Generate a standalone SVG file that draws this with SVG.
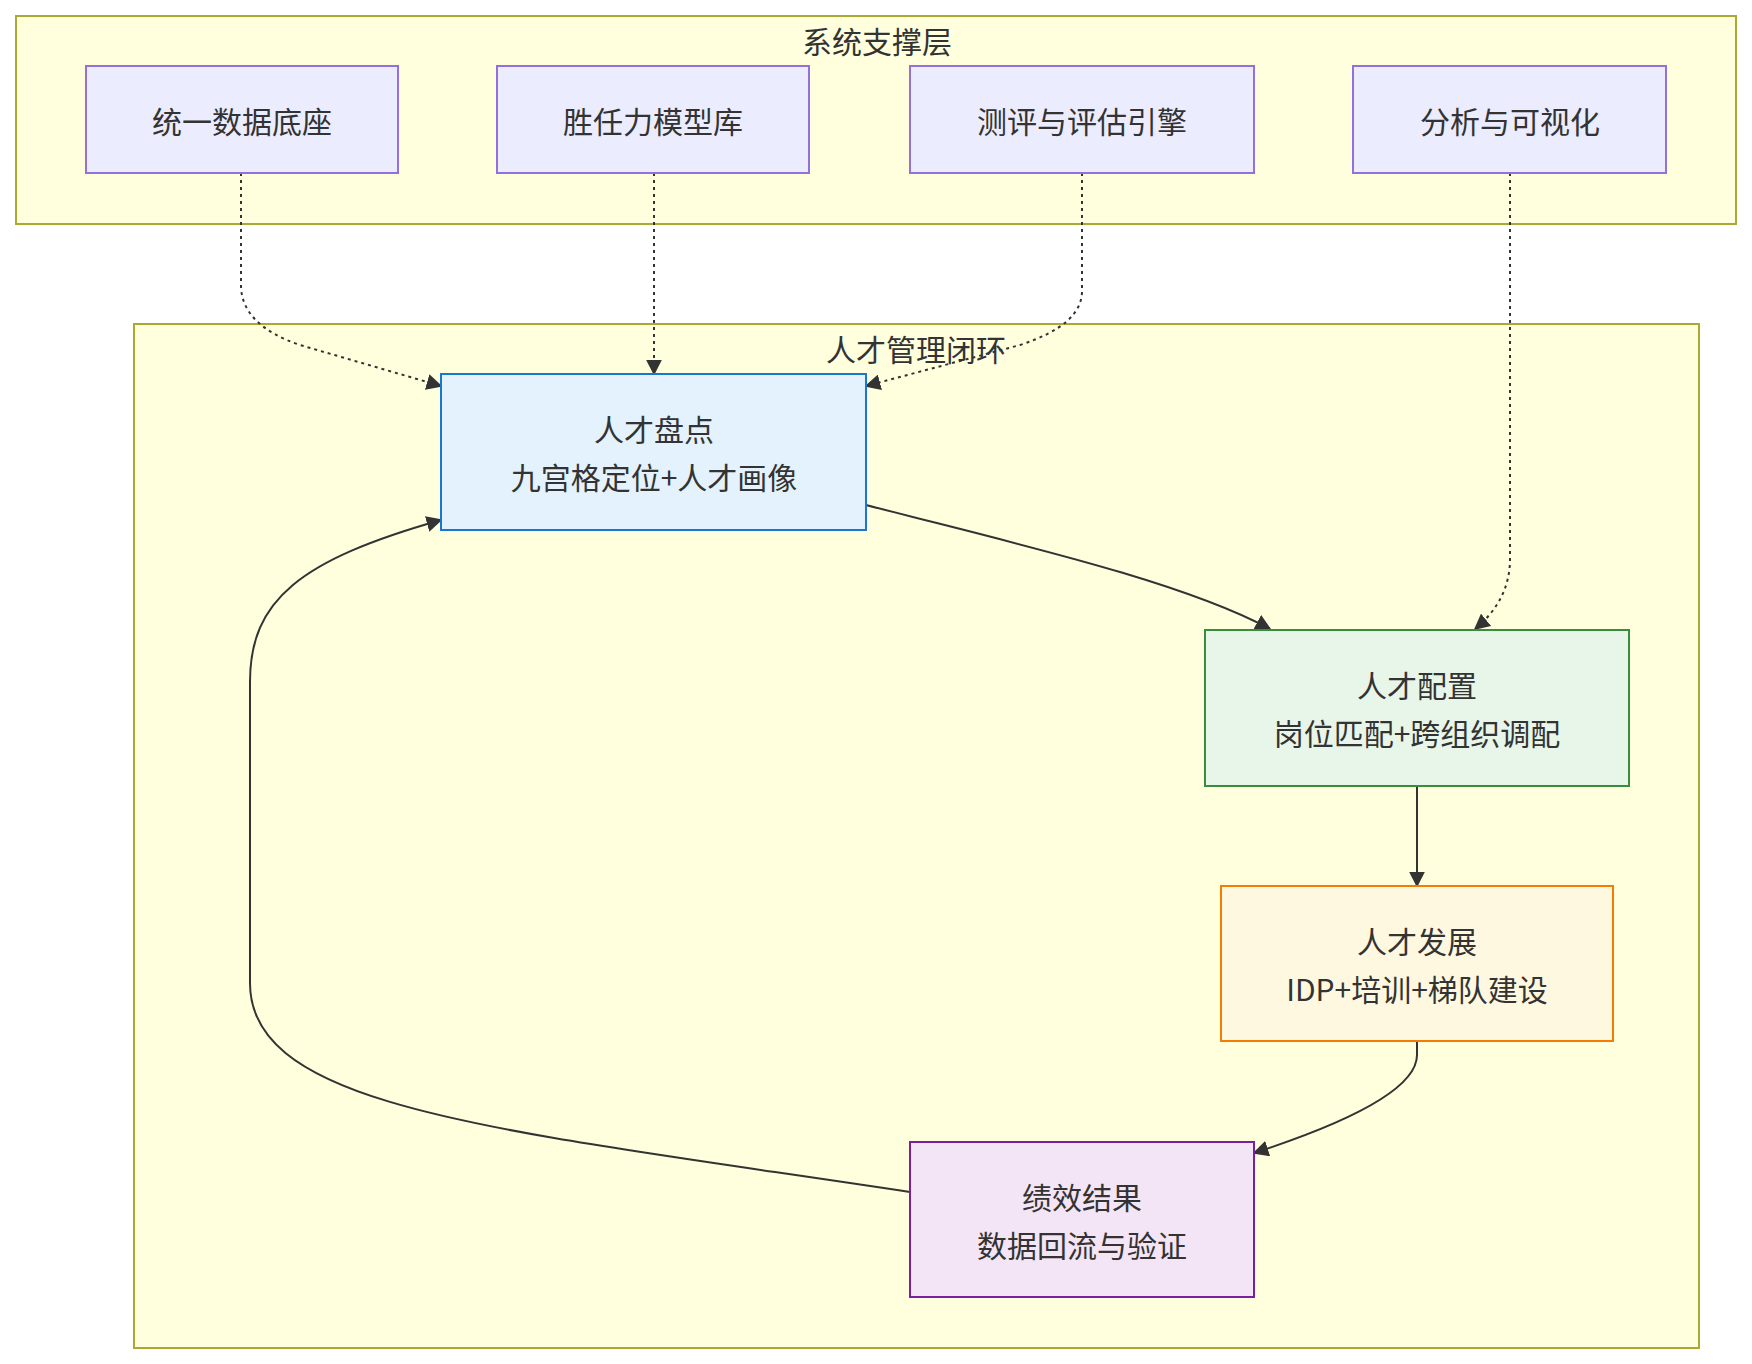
<svg xmlns="http://www.w3.org/2000/svg" width="1752" height="1364" viewBox="0 0 1752 1364">
<style>
text{font-family:"Noto Sans CJK SC","Liberation Sans",sans-serif;font-size:30px;fill:#333;text-anchor:middle;dominant-baseline:central}
.cl{fill:#ffffde;stroke:#aaaa33;stroke-width:2}
.sys{fill:#ececff;stroke:#9370db;stroke-width:2}
.e{fill:none;stroke:#333;stroke-width:2}
.d{stroke-dasharray:3,4}
</style>
<defs><marker id="ah" viewBox="0 0 10 10" refX="9" refY="5" markerWidth="8" markerHeight="8" orient="auto"><path d="M0,0L10,5L0,10z" fill="#333"/></marker></defs>
<rect width="1752" height="1364" fill="#fff"/>
<g id="cluster-sys"><rect class="cl" x="16" y="16" width="1720" height="208"/><text x="877" y="40">系统支撑层</text></g>
<g id="cluster-loop"><rect class="cl" x="134" y="324" width="1565" height="1024"/><text x="916" y="348">人才管理闭环</text></g>
<g id="connectors">
<path class="e d" d="M241,173V285Q241,325 300,345L441,386" marker-end="url(#ah)"/>
<path class="e d" d="M654,173V374" marker-end="url(#ah)"/>
<path class="e d" d="M1082,173V291Q1082,325 1020,345L866,386" marker-end="url(#ah)"/>
<path class="e d" d="M1510,173V559Q1510,600 1475,629" marker-end="url(#ah)"/>
<path class="e" d="M866,505C1000,540 1180,580 1270,629" marker-end="url(#ah)"/>
<path class="e" d="M1417,786V886" marker-end="url(#ah)"/>
<path class="e" d="M1417,1041V1055Q1417,1100 1254,1153" marker-end="url(#ah)"/>
<path class="e" d="M910,1192C500,1130 250,1110 250,983V682C250,600 300,560 441,520" marker-end="url(#ah)"/>
</g>
<g id="n1"><rect class="sys" x="86" y="66" width="312" height="107"/><text x="242" y="120">统一数据底座</text></g>
<g id="n2"><rect class="sys" x="497" y="66" width="312" height="107"/><text x="653" y="120">胜任力模型库</text></g>
<g id="n3"><rect class="sys" x="910" y="66" width="344" height="107"/><text x="1082" y="120">测评与评估引擎</text></g>
<g id="n4"><rect class="sys" x="1353" y="66" width="313" height="107"/><text x="1510" y="120">分析与可视化</text></g>
<g id="A"><rect x="441" y="374" width="425" height="156" fill="#e3f2fd" stroke="#1976d2" stroke-width="2"/><text x="654" y="428">人才盘点</text><text x="654" y="476">九宫格定位+人才画像</text></g>
<g id="B"><rect x="1205" y="630" width="424" height="156" fill="#e8f5e9" stroke="#388e3c" stroke-width="2"/><text x="1417" y="684">人才配置</text><text x="1417" y="732">岗位匹配+跨组织调配</text></g>
<g id="C"><rect x="1221" y="886" width="392" height="155" fill="#fff8e1" stroke="#f57c00" stroke-width="2"/><text x="1417" y="940">人才发展</text><text x="1417" y="988">IDP+培训+梯队建设</text></g>
<g id="D"><rect x="910" y="1142" width="344" height="155" fill="#f3e5f5" stroke="#7b1fa2" stroke-width="2"/><text x="1082" y="1196">绩效结果</text><text x="1082" y="1244">数据回流与验证</text></g>
</svg>
